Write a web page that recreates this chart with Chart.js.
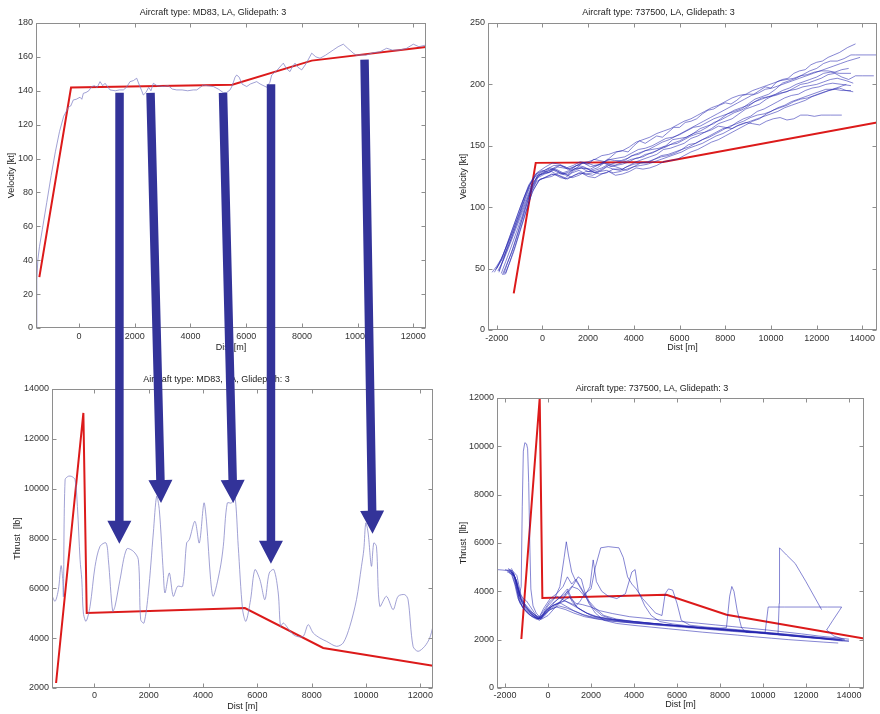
<!DOCTYPE html>
<html><head><meta charset="utf-8">
<script src="https://cdn.jsdelivr.net/npm/chart.js@4/dist/chart.umd.min.js"></script>
<style>
body{margin:0;background:#fff;width:880px;height:714px;position:relative;overflow:hidden}
canvas{position:absolute}
</style></head>
<body>
<canvas id="tl"></canvas><canvas id="tr"></canvas><canvas id="bl"></canvas><canvas id="br"></canvas>
<canvas id="arrows" width="880" height="714" style="left:0;top:0;pointer-events:none"></canvas>
<script>
// ---------------- DATA ----------------
const titleMD83 = "Aircraft type: MD83, LA, Glidepath: 3";
const title737 = "Aircraft type: 737500, LA, Glidepath: 3";
const xTicksMD83 = [0,2000,4000,6000,8000,10000,12000];
const xTicks737 = [-2000,0,2000,4000,6000,8000,10000,12000,14000];
const yTicksVelMD83 = [0,20,40,60,80,100,120,140,160,180];
const yTicksThrMD83 = [2000,4000,6000,8000,10000,12000,14000];
const yTicksVel737 = [0,50,100,150,200,250];
const yTicksThr737 = [0,2000,4000,6000,8000,10000,12000];

// MD83 velocity (dist m, kt)
const md83VelModel = [[-1425,30],[-287,141.9],[5500,143.6],[8353,157.8],[12455,165.9]];
const md83VelMeasured = [[-1540,0],[-1515,28],[-1480,40],[-1420,48],[-1320,58],[-1160,74],[-1000,90],[-850,104],[-700,116],[-550,125],[-420,129],[-384,130.3],[-300,131],[-205,134.6],[-100,135],[36,136.2],[100,135],[155,138.5],[250,139],[350,140],[455,142.5],[550,143],[650,142],[754,145.4],[850,143],[933,144.4],[1000,143],[1112,140.5],[1300,140],[1450,140.5],[1590,140.5],[1700,142],[1830,145.4],[1950,146],[2070,147.4],[2150,144],[2250,140],[2308,137.5],[2400,139],[2500,142],[2580,140],[2667,144.4],[2800,143],[3026,142.5],[3200,143],[3350,141],[3507,140.5],[3700,140.5],[3900,140],[4100,140.5],[4225,140.5],[4350,142],[4462,143.4],[4600,143],[4821,142.5],[5000,141],[5180,138.9],[5300,139],[5420,140.5],[5500,143],[5600,148],[5660,149.3],[5750,148],[5850,144],[6019,142.5],[6150,144],[6378,145.4],[6500,144],[6737,142.1],[6850,145],[6916,149.3],[7100,152],[7333,156.3],[7450,153],[7573,151.3],[7650,154],[7753,156.3],[7850,154],[7993,152.3],[8150,156],[8353,162.2],[8500,160],[8650,159.2],[8850,161],[9128,164.1],[9300,166],[9487,167.5],[9650,165],[9845,162.2],[9950,161],[10086,161.2],[10300,161],[10564,162.5],[10800,163],[11044,165.1],[11250,164],[11522,164.1],[11750,165],[12000,167.5],[12200,166],[12455,167]];

// MD83 thrust (dist m, lb)
const md83ThrModel = [[-1410,2200],[-405,13040],[-282,5010],[5540,5210],[8423,3606],[12465,2896]];
const md83ThrMeasured = [[-1560,5700],[-1446,5480],[-1324,5950],[-1226,6910],[-1165,6350],[-1140,5680],[-1078,10360],[-956,10500],[-833,10490],[-711,10360],[-625,9290],[-527,7150],[-463,6350],[-405,5010],[-307,4676],[-159,5278],[25,6884],[208,7686],[429,7820],[515,7151],[674,5077],[760,5278],[944,6349],[1189,7579],[1434,7486],[1618,7151],[1704,4743],[1827,4609],[1986,5813],[2170,8222],[2292,9694],[2390,9158],[2538,6616],[2599,5813],[2758,6616],[2905,5680],[3065,6081],[3249,6081],[3396,7820],[3494,7954],[3702,8690],[3862,7820],[4034,9426],[4132,8623],[4279,6349],[4377,5680],[4622,6750],[4745,7686],[4892,9426],[5051,9426],[5174,9694],[5296,7686],[5456,5144],[5578,4676],[5750,5546],[5909,6750],[6093,6349],[6277,5546],[6437,6616],[6608,6750],[6768,5813],[6853,4475],[6952,4609],[7074,4475],[7258,4208],[7442,4074],[7687,4074],[7871,4542],[8055,4208],[8300,4007],[8545,3873],[8912,3673],[9158,3806],[9403,4475],[9648,5546],[9832,6884],[9918,7553],[9991,8623],[10077,8222],[10199,6884],[10285,7820],[10383,7686],[10506,5278],[10751,5680],[10996,5144],[11180,5680],[11425,5746],[11547,5546],[11731,3673],[11915,3472],[12160,3673],[12344,4007],[12465,4475]];

// 737500 velocity (dist m, kt)
const b737VelModel = [[-1254,29.8],[-292,136.1],[5279,136.9],[14640,168.9]];
const b737VelTraces = [
 [[-1900,48],[-1700,58],[-1500,70],[-1250,83],[-1000,95],[-800,108],[-600,118],[-300,127],[0,130],[250,128],[500,131],[750,134],[1000,133],[1250,130],[1500,132],[1750,136],[2000,135],[2250,139],[2500,138],[2750,137],[3000,141],[3250,145],[3500,146],[3750,145],[4000,150],[4250,154],[4500,152],[4750,155],[5000,158],[5250,157],[5500,161],[5750,165],[6000,165],[6250,169],[6500,170],[6750,172],[7000,176],[7250,179],[7500,180],[7750,183],[8000,185],[8250,184],[8500,187],[8750,191],[9000,192],[9250,192],[9500,195],[9750,198],[10000,197],[10250,202],[10500,204],[10750,205],[11000,209],[11250,211],[11500,212],[11750,216],[12000,218],[12250,219],[12500,222],[12750,224],[13000,226],[13350,230],[13700,233]],
 [[-2100,47],[-1900,54],[-1700,62],[-1450,75],[-1200,88],[-950,101],[-700,112],[-500,120],[-300,125],[0,129],[300,132],[600,131],[900,128],[1200,130],[1500,134],[1800,133],[2100,130],[2400,132],[2700,136],[3000,135],[3300,137],[3600,138],[3900,142],[4200,143],[4500,146],[4800,147],[5100,148],[5400,150],[5700,155],[6000,156],[6300,157],[6600,160],[6900,164],[7200,166],[7500,168],[7800,172],[8100,176],[8400,178],[8700,180],[9000,184],[9300,188],[9600,190],[9900,192],[10200,196],[10500,201],[10800,203],[11100,205],[11400,208],[11700,211],[12000,213],[12300,217],[12600,219],[12900,219],[13200,221],[13500,224],[13700,224],[14200,224],[14640,224]],
 [[-2000,50],[-1750,58],[-1500,68],[-1250,80],[-1000,92],[-750,105],[-500,116],[-200,126],[200,128],[500,130],[800,127],[1100,126],[1400,130],[1700,132],[2000,131],[2300,128],[2600,130],[2900,134],[3200,133],[3500,131],[3800,134],[4100,137],[4400,139],[4700,141],[5000,143],[5300,147],[5600,148],[5900,150],[6200,152],[6500,156],[6800,158],[7100,161],[7400,164],[7700,168],[8000,170],[8300,172],[8600,176],[8900,180],[9200,182],[9500,184],[9800,188],[10100,191],[10400,193],[10700,194],[11000,197],[11300,200],[11600,201],[11900,203],[12200,205],[12500,208],[12800,209],[13100,206],[13400,204],[13700,207],[14000,207],[14500,207]],
 [[-1700,45],[-1500,56],[-1300,66],[-1100,78],[-900,90],[-700,102],[-500,113],[-200,124],[100,127],[400,129],[700,126],[1000,124],[1300,128],[1600,130],[1900,127],[2200,128],[2500,130],[2800,133],[3100,131],[3400,130],[3700,133],[4000,135],[4300,136],[4600,136],[4900,139],[5200,142],[5500,143],[5800,145],[6100,147],[6400,151],[6700,152],[7000,155],[7300,158],[7600,161],[7900,164],[8200,165],[8500,169],[8800,172],[9100,174],[9400,178],[9700,180],[10000,183],[10300,186],[10600,189],[10900,191],[11200,192],[11500,195],[11800,197],[12100,198],[12400,200],[12700,201],[13100,200],[13500,199]],
 [[-1650,45],[-1450,54],[-1250,64],[-1050,76],[-850,88],[-650,100],[-450,112],[-150,122],[200,125],[500,127],[800,124],[1100,123],[1400,126],[1700,128],[2000,125],[2300,124],[2600,127],[2900,129],[3200,126],[3500,127],[3800,129],[4100,132],[4400,131],[4700,132],[5000,134],[5300,137],[5600,138],[5900,139],[6200,142],[6500,145],[6800,147],[7100,150],[7400,153],[7700,155],[8000,158],[8300,161],[8600,164],[8900,167],[9200,170],[9500,172],[9800,176],[10100,179],[10400,181],[10700,183],[11000,186],[11300,188],[11600,189],[11900,191],[12200,193],[12500,195],[12800,196],[13100,195],[13500,195]],
 [[-1950,48],[-1700,57],[-1500,66],[-1250,78],[-1000,90],[-750,103],[-500,114],[-200,125],[200,129],[500,131],[800,128],[1100,127],[1400,131],[1700,132],[2000,129],[2300,130],[2600,132],[2900,135],[3200,134],[3500,135],[3800,137],[4100,140],[4400,141],[4700,144],[5000,146],[5300,149],[5600,151],[5900,152],[6200,155],[6500,158],[6800,160],[7100,161],[7400,163],[7700,166],[8000,165],[8300,164],[8600,167],[8900,169],[9200,168],[9500,167],[9800,170],[10100,172],[10400,173],[10700,171],[11000,172],[11300,175],[11600,175],[11900,174],[12200,175],[12600,175],[13100,175]],
 [[-1800,46],[-1600,56],[-1400,66],[-1150,79],[-900,92],[-700,104],[-500,115],[-200,126],[300,130],[600,133],[900,132],[1200,131],[1500,134],[1800,136],[2100,133],[2400,134],[2700,137],[3000,139],[3300,140],[3600,141],[3900,144],[4200,147],[4500,148],[4800,150],[5100,153],[5400,156],[5700,157],[6000,159],[6300,162],[6600,165],[6900,166],[7200,169],[7500,172],[7800,174],[8100,176],[8400,179],[8700,181],[9000,183],[9300,186],[9600,189],[9900,190],[10200,191],[10500,193],[10800,195],[11100,196],[11400,198],[11700,199],[12000,200],[12300,202],[12600,204],[12900,205],[13300,203],[13600,201]],
 [[-2200,47],[-2000,52],[-1800,58],[-1550,69],[-1300,80],[-1050,93],[-800,105],[-600,114],[-400,121],[0,128],[300,131],[600,130],[900,127],[1200,129],[1500,132],[1800,132],[2100,131],[2400,134],[2700,136],[3000,133],[3300,135],[3600,137],[3900,139],[4200,140],[4500,143],[4800,144],[5100,147],[5400,149],[5700,152],[6000,154],[6300,157],[6600,160],[6900,162],[7200,165],[7500,169],[7800,171],[8100,174],[8400,177],[8700,179],[9000,182],[9300,186],[9600,188],[9900,190],[10200,192],[10500,195],[10800,197],[11100,200],[11400,202],[11700,204],[12000,206],[12300,209],[12600,210],[13000,209],[13500,209]],
 [[-1600,46],[-1400,57],[-1200,68],[-1000,80],[-800,92],[-600,104],[-400,114],[-100,123],[400,125],[700,128],[1000,127],[1300,124],[1600,126],[1900,129],[2200,129],[2500,127],[2800,128],[3100,131],[3400,131],[3700,130],[4000,133],[4300,136],[4600,137],[4900,139],[5200,141],[5500,142],[5800,144],[6100,147],[6400,149],[6700,152],[7000,155],[7300,157],[7600,160],[7900,163],[8200,166],[8500,168],[8800,170],[9100,173],[9400,175],[9700,176],[10000,178],[10300,181],[10600,183],[10900,186],[11200,188],[11500,190],[11800,192],[12100,194],[12400,196],[12700,196],[13000,197],[13300,195],[13600,194]],
 [[-2050,49],[-1800,57],[-1600,67],[-1350,80],[-1100,93],[-850,106],[-600,117],[-250,127],[200,131],[500,134],[800,134],[1100,131],[1400,133],[1700,136],[2000,137],[2300,139],[2600,142],[2900,143],[3200,145],[3500,146],[3800,149],[4100,153],[4400,155],[4700,157],[5000,160],[5300,162],[5600,164],[5900,167],[6200,170],[6500,172],[6800,175],[7100,178],[7400,181],[7700,183],[8000,186],[8300,189],[8600,191],[8900,192],[9200,195],[9500,197],[9800,199],[10100,201],[10400,203],[10700,204],[11000,205],[11300,207],[11600,208],[11900,210],[12200,211],[12500,211],[12800,210],[13100,212],[13400,213]],
 [[-1750,45],[-1550,54],[-1350,63],[-1150,74],[-950,86],[-750,98],[-550,110],[-250,121],[100,124],[400,127],[700,126],[1000,123],[1300,125],[1600,128],[1900,127],[2200,126],[2500,129],[2800,130],[3100,128],[3400,129],[3700,131],[4000,133],[4300,134],[4600,135],[4900,137],[5200,139],[5500,141],[5800,143],[6100,145],[6400,148],[6700,150],[7000,152],[7300,155],[7600,158],[7900,160],[8200,163],[8500,166],[8800,168],[9100,170],[9400,172],[9700,174],[10000,176],[10300,178],[10600,181],[10900,183],[11200,185],[11500,187],[11800,190],[12100,192],[12400,194],[12700,196],[13000,198],[13300,200]],
 [[-1900,47],[-1700,58],[-1450,70],[-1200,83],[-950,96],[-750,108],[-550,118],[-250,128],[150,133],[450,136],[750,135],[1050,132],[1350,134],[1650,137],[1950,136],[2250,134],[2550,135],[2850,139],[3150,138],[3450,138],[3750,140],[4050,143],[4350,145],[4650,147],[4950,150],[5250,153],[5550,155],[5850,158],[6150,161],[6450,164],[6750,167],[7050,170],[7350,173],[7650,176],[7950,179],[8250,182],[8550,185],[8850,188],[9150,191],[9450,193],[9750,196],[10050,197],[10350,199],[10650,201],[10950,203],[11250,205],[11550,207],[11850,209],[12150,211],[12450,213],[12750,215],[13050,217],[13350,219],[13900,222]]
];

// 737500 thrust (dist m, lb)
const b737ThrModel = [[-1242,2027],[-388,12000],[-264,3723],[5510,3861],[8305,3033],[14700,2050]];
const b737ThrTraces = [
 [[-2375,4900],[-2100,4880],[-1850,4850],[-1700,4700],[-1550,4300],[-1400,3700],[-1200,3400],[-1000,3200],[-800,3050],[-600,2950],[-400,2900],[-200,3100],[0,3300],[300,3450],[600,3500],[900,3350],[1200,3200],[1600,3050],[2000,2950],[2600,2850],[3200,2800],[4000,2700],[4800,2650],[5600,2600],[6400,2550],[7200,2480],[8000,2450],[8800,2380],[9600,2330],[10400,2280],[11200,2220],[12000,2150],[12800,2080],[13600,2020]],
 [[-1900,4800],[-1700,4750],[-1500,4500],[-1350,3800],[-1250,4200],[-1200,7500],[-1150,9800],[-1080,10150],[-1000,10100],[-950,9900],[-900,8500],[-850,6000],[-800,4100],[-700,3400],[-550,3100],[-400,2950],[-200,3200],[100,3600],[400,3800],[700,3650],[1000,3500],[1400,3300],[1800,3100],[2200,2950],[2800,2850],[3500,2750],[4300,2700],[5100,2650],[5900,2580],[6700,2520],[7500,2470],[8300,2420],[9100,2360],[9900,2300],[10700,2240],[11500,2170],[12300,2100],[13100,2030],[13800,1980]],
 [[-1850,4950],[-1650,4800],[-1450,4400],[-1250,3600],[-1050,3300],[-850,3100],[-650,3000],[-450,2850],[-250,3050],[0,3400],[300,3700],[550,4200],[750,5400],[850,6050],[950,5500],[1100,4800],[1250,4500],[1400,4300],[1600,4000],[1800,3700],[2100,3300],[2500,3000],[3000,2850],[3600,2780],[4400,2700],[5200,2640],[6000,2580],[6800,2500],[7600,2460],[8400,2400],[9200,2340],[10000,2270],[10800,2200],[11600,2140],[12400,2070],[13200,2000]],
 [[-1800,4850],[-1600,4700],[-1400,4100],[-1200,3500],[-1000,3300],[-800,3150],[-600,3000],[-400,2950],[-200,3300],[100,3700],[400,3900],[700,4200],[900,4600],[1100,4300],[1300,4500],[1500,4200],[1700,3900],[2000,4100],[2200,5000],[2450,5800],[2800,5850],[3300,5800],[3500,5400],[3700,4600],[3900,4300],[4100,4100],[4400,3700],[4700,3400],[5000,3100],[5300,3000],[5450,3900],[5600,4100],[5800,4050],[6000,3500],[6200,2800],[6600,2600],[7400,2520],[8200,2460],[9000,2400],[9800,2330],[10600,2260],[11400,2190],[12200,2120],[13000,2060],[13700,2000]],
 [[-1750,4900],[-1550,4600],[-1350,3900],[-1150,3450],[-950,3250],[-750,3050],[-550,2900],[-350,2850],[-150,3150],[200,3500],[500,3700],[800,3900],[1100,4200],[1400,4100],[1700,3800],[1950,4200],[2100,5300],[2250,4400],[2500,4000],[2800,3800],[3200,3700],[3600,3900],[3900,4800],[4050,4900],[4200,4000],[4500,3400],[4800,3000],[5200,2750],[5800,2650],[6600,2560],[7400,2490],[8200,2420],[9000,2380],[9800,2300],[10600,2240],[11400,2170],[12200,2110],[13000,2040],[13600,1990]],
 [[-1650,4800],[-1450,4400],[-1250,3700],[-1050,3400],[-850,3200],[-650,3050],[-450,2900],[-250,3000],[50,3300],[400,3500],[800,3600],[1200,3450],[1600,3200],[2000,3000],[2500,2900],[3200,2800],[4000,2750],[4800,2680],[5600,2620],[6400,2560],[7200,2500],[8000,2470],[8300,2500],[8450,3800],[8550,4200],[8650,4000],[8800,3200],[9000,2500],[9200,2300],[9800,2280],[10600,2220],[11400,2150],[12200,2080],[13000,2020],[13700,1960]],
 [[-1800,4750],[-1600,4650],[-1400,3900],[-1200,3350],[-1000,3150],[-800,3000],[-600,2900],[-400,2800],[-200,2950],[100,3250],[500,3400],[900,3300],[1300,3150],[1700,3000],[2200,2880],[2800,2800],[3600,2720],[4400,2660],[5200,2600],[6000,2560],[6800,2500],[7600,2440],[8400,2380],[9200,2330],[10000,2280],[10700,2230],[10754,3500],[10770,5800],[11100,5500],[11500,5150],[12000,4400],[12728,3240]],
 [[-2000,4900],[-1750,4850],[-1550,4600],[-1350,3600],[-1150,3300],[-950,3100],[-750,2950],[-550,2850],[-300,2900],[0,3200],[400,3350],[800,3250],[1200,3100],[1700,2950],[2300,2850],[3000,2760],[3800,2700],[4600,2640],[5400,2580],[6200,2520],[7000,2460],[7800,2400],[8600,2340],[9400,2290],[10100,2300],[10242,3350],[11000,3350],[12000,3350],[13000,3350],[13659,3350],[13550,3200],[13250,2800],[12961,2400],[13300,2150],[13800,2000]],
 [[-1700,4950],[-1500,4500],[-1300,3700],[-1100,3500],[-900,3300],[-700,3100],[-500,2950],[-300,2900],[-100,3200],[200,3400],[600,3550],[1000,3750],[1300,3500],[1600,3450],[2000,3350],[2400,3200],[3000,3080],[3800,2950],[4600,2880],[5400,2800],[6200,2750],[7000,2680],[7800,2610],[8600,2540],[9400,2470],[10200,2400],[11000,2320],[11800,2240],[12600,2150],[13400,2080],[14000,2020]],
 [[-1900,4850],[-1700,4800],[-1500,4200],[-1300,3500],[-1100,3250],[-900,3050],[-700,2950],[-500,2880],[-300,2850],[0,3000],[300,3300],[600,3600],[900,3900],[1200,4300],[1400,4600],[1550,4500],[1700,4000],[1900,3600],[2200,3300],[2600,3000],[3200,2850],[4000,2750],[4800,2680],[5600,2610],[6400,2540],[7200,2470],[8000,2410],[8800,2350],[9600,2290],[10400,2220],[11200,2160],[12000,2090],[12800,2030],[13600,1950],[14000,1930]],
 [[-1600,4750],[-1450,4300],[-1300,3900],[-1150,3700],[-1000,3600],[-850,3400],[-700,3200],[-550,3000],[-400,2850],[-250,2950],[0,3200],[300,3550],[600,3800],[900,4100],[1100,3700],[1300,3400],[1500,3600],[1700,3900],[1900,3500],[2200,3100],[2600,2800],[3200,2670],[4000,2590],[4800,2520],[5600,2450],[6400,2380],[7200,2310],[8000,2250],[8800,2190],[9600,2120],[10400,2060],[11200,2000],[12000,1950],[12800,1900],[13500,1860]],
 [[-1850,4900],[-1650,4850],[-1450,4650],[-1250,3800],[-1050,3400],[-850,3150],[-650,2950],[-450,2850],[-250,3000],[50,3250],[400,3450],[700,3700],[900,4000],[1100,3600],[1400,3300],[1800,3100],[2300,2950],[3000,2850],[3800,2770],[4600,2700],[5400,2620],[6200,2560],[7000,2490],[7800,2440],[8600,2380],[9400,2320],[10200,2250],[11000,2190],[11800,2120],[12600,2060],[13400,1990],[14000,1950]]
];

// Annotation arrows: from (dist, velocity) on MD83 velocity plot to (dist, thrust) on MD83 thrust plot
const arrowFrom = [[1454,138.8],[2566,138.8],[5168,138.8],[6892,143.9],[10248,158.4]];
const arrowTo = [[919,7791],[2453,9425],[5112,9425],[6499,6989],[10239,8193]];

// ---------------- RENDER ----------------
const FONT_FAMILY = '"Liberation Sans", Arial, Helvetica, sans-serif';
Chart.defaults.font.family = FONT_FAMILY;
Chart.defaults.font.size = 9;
Chart.defaults.color = '#333';

const RED = '#dc1a1a';
const LIGHT = 'rgba(125,125,195,0.72)';
const BUNDLE = 'rgba(35,35,175,0.55)';
const pts = a => a.map(([x, y]) => ({x, y}));

const boxTicks = {
  id: 'boxTicks',
  afterDraw(chart) {
    const {ctx, chartArea: a, scales: {x, y}} = chart;
    ctx.save();
    ctx.strokeStyle = '#8e8e8e';
    ctx.lineWidth = 1;
    const l = Math.round(a.left) + 0.5, r = Math.round(a.right) - 0.5, t = Math.round(a.top) + 0.5, b = Math.round(a.bottom) - 0.5;
    ctx.strokeRect(l, t, r - l, b - t);
    const L = 4;
    ctx.beginPath();
    x.ticks.forEach(tk => { const p = Math.round(x.getPixelForValue(tk.value)) + 0.5; ctx.moveTo(p, b); ctx.lineTo(p, b - L); ctx.moveTo(p, t); ctx.lineTo(p, t + L); });
    y.ticks.forEach(tk => { const p = Math.round(y.getPixelForValue(tk.value)) + 0.5; ctx.moveTo(l, p); ctx.lineTo(l + L, p); ctx.moveTo(r, p); ctx.lineTo(r - L, p); });
    ctx.stroke();
    ctx.restore();
  }
};

function buildChart(id, box, xr, yr, xTicks, yTicks, title, xTitle, yTitle, datasets) {
  const LH = 9 * 1.2;
  const titleH = 18;
  const tPadBot = box.T - box.titleY - LH / 2;
  const tPadTop = titleH - LH - tPadBot;
  const padR = 4;
  const cv = document.getElementById(id);
  const top = box.T - titleH;
  cv.width = box.R - box.canvasLeft + padR;
  cv.height = titleH + (box.B - box.T) + box.xH;
  cv.style.left = box.canvasLeft + 'px';
  cv.style.top = top + 'px';
  const yW = box.L - box.canvasLeft;
  const xPadBot = (box.B + box.xH) - box.xTitleY - LH / 2;
  const yPadTop = box.yTitleX - box.canvasLeft - LH / 2;
  return new Chart(cv, {
    type: 'scatter',
    data: {datasets},
    options: {
      responsive: false, animation: false, devicePixelRatio: 1,
      layout: {padding: {left: 0, right: padR, top: 0, bottom: 0}},
      plugins: {
        legend: {display: false}, tooltip: {enabled: false},
        title: {display: true, text: title, font: {size: 9, weight: 'normal'}, color: '#222', padding: {top: tPadTop, bottom: tPadBot}}
      },
      elements: {point: {radius: 0}, line: {tension: 0}},
      scales: {
        x: {
          type: 'linear', min: xr[0], max: xr[1],
          afterBuildTicks: s => { s.ticks = xTicks.map(v => ({value: v})); },
          afterFit: s => { s.height = box.xH; },
          ticks: {padding: box.xTickPad, color: '#333', callback: v => String(v), maxRotation: 0, autoSkip: false},
          grid: {display: false, drawTicks: false},
          border: {display: false},
          title: {display: true, text: xTitle, color: '#222', font: {size: 9}, padding: {top: 0, bottom: xPadBot}}
        },
        y: {
          type: 'linear', min: yr[0], max: yr[1],
          afterBuildTicks: s => { s.ticks = yTicks.map(v => ({value: v})); },
          afterFit: s => { s.width = yW; },
          ticks: {padding: 3, color: '#333', callback: v => String(v), autoSkip: false},
          grid: {display: false, drawTicks: false},
          border: {display: false},
          title: {display: true, text: yTitle, color: '#222', font: {size: 9}, padding: {top: yPadTop, bottom: 0}}
        }
      }
    },
    plugins: [boxTicks]
  });
}

const lineDs = (data, color, width, extra) => Object.assign({data: pts(data), showLine: true, borderColor: color, borderWidth: width, pointRadius: 0, fill: false}, extra || {});

const chTL = buildChart('tl',
  {canvasLeft: 0, L: 36, R: 426, T: 23, B: 328, titleY: 13, xH: 30, xTitleY: 348, yTitleX: 12, xTickPad: 3},
  [-1545, 12455], [0, 180], xTicksMD83, yTicksVelMD83, titleMD83, 'Dist [m]', 'Velocity [kt]',
  [lineDs(md83VelMeasured, LIGHT, 1), lineDs(md83VelModel, RED, 2)]);

const chTR = buildChart('tr',
  {canvasLeft: 440, L: 488, R: 877, T: 23, B: 330, titleY: 13, xH: 28, xTitleY: 348, yTitleX: 464, xTickPad: 3},
  [-2380, 14640], [0, 250], xTicks737, yTicksVel737, title737, 'Dist [m]', 'Velocity [kt]',
  b737VelTraces.map(t => lineDs(t, BUNDLE, 1)).concat([lineDs(b737VelModel, RED, 2)]));

const chBL = buildChart('bl',
  {canvasLeft: 0, L: 52, R: 433, T: 389, B: 688, titleY: 380, xH: 26, xTitleY: 707, yTitleX: 18, xTickPad: 2},
  [-1560, 12465], [2000, 14000], xTicksMD83, yTicksThrMD83, titleMD83, 'Dist [m]', 'Thrust  [lb]',
  [lineDs(md83ThrMeasured, LIGHT, 1, {tension: 0.3}), lineDs(md83ThrModel, RED, 2)]);

const chBR = buildChart('br',
  {canvasLeft: 440, L: 497, R: 864, T: 398, B: 688, titleY: 389, xH: 26, xTitleY: 705, yTitleX: 464, xTickPad: 2},
  [-2375, 14700], [0, 12000], xTicks737, yTicksThr737, title737, 'Dist [m]', 'Thrust  [lb]',
  b737ThrTraces.map(t => lineDs(t, BUNDLE, 1)).concat([lineDs(b737ThrModel, RED, 2)]));

// arrows overlay, positioned through the charts' own scales
function pagePx(chart, x, y) {
  const c = chart.canvas;
  return [parseFloat(c.style.left) + chart.scales.x.getPixelForValue(x), parseFloat(c.style.top) + chart.scales.y.getPixelForValue(y)];
}
function drawArrow(ctx, x0, y0, x1, y1, sw, hw, hl) {
  const dx = x1 - x0, dy = y1 - y0, len = Math.hypot(dx, dy), ux = dx / len, uy = dy / len, nx = -uy, ny = ux;
  const bx = x1 - ux * hl, by = y1 - uy * hl;
  ctx.beginPath();
  ctx.moveTo(x0 + nx * sw / 2, y0 + ny * sw / 2);
  ctx.lineTo(bx + nx * sw / 2, by + ny * sw / 2);
  ctx.lineTo(bx + nx * hw / 2, by + ny * hw / 2);
  ctx.lineTo(x1, y1);
  ctx.lineTo(bx - nx * hw / 2, by - ny * hw / 2);
  ctx.lineTo(bx - nx * sw / 2, by - ny * sw / 2);
  ctx.lineTo(x0 - nx * sw / 2, y0 - ny * sw / 2);
  ctx.closePath();
  ctx.fill();
}
const actx = document.getElementById('arrows').getContext('2d');
actx.fillStyle = '#333399';
arrowFrom.forEach((f, i) => {
  const [x0, y0] = pagePx(chTL, f[0], f[1]);
  const [x1, y1] = pagePx(chBL, arrowTo[i][0], arrowTo[i][1]);
  drawArrow(actx, x0, y0, x1, y1, 8.5, 24, 23);
});
</script>
</body></html>
